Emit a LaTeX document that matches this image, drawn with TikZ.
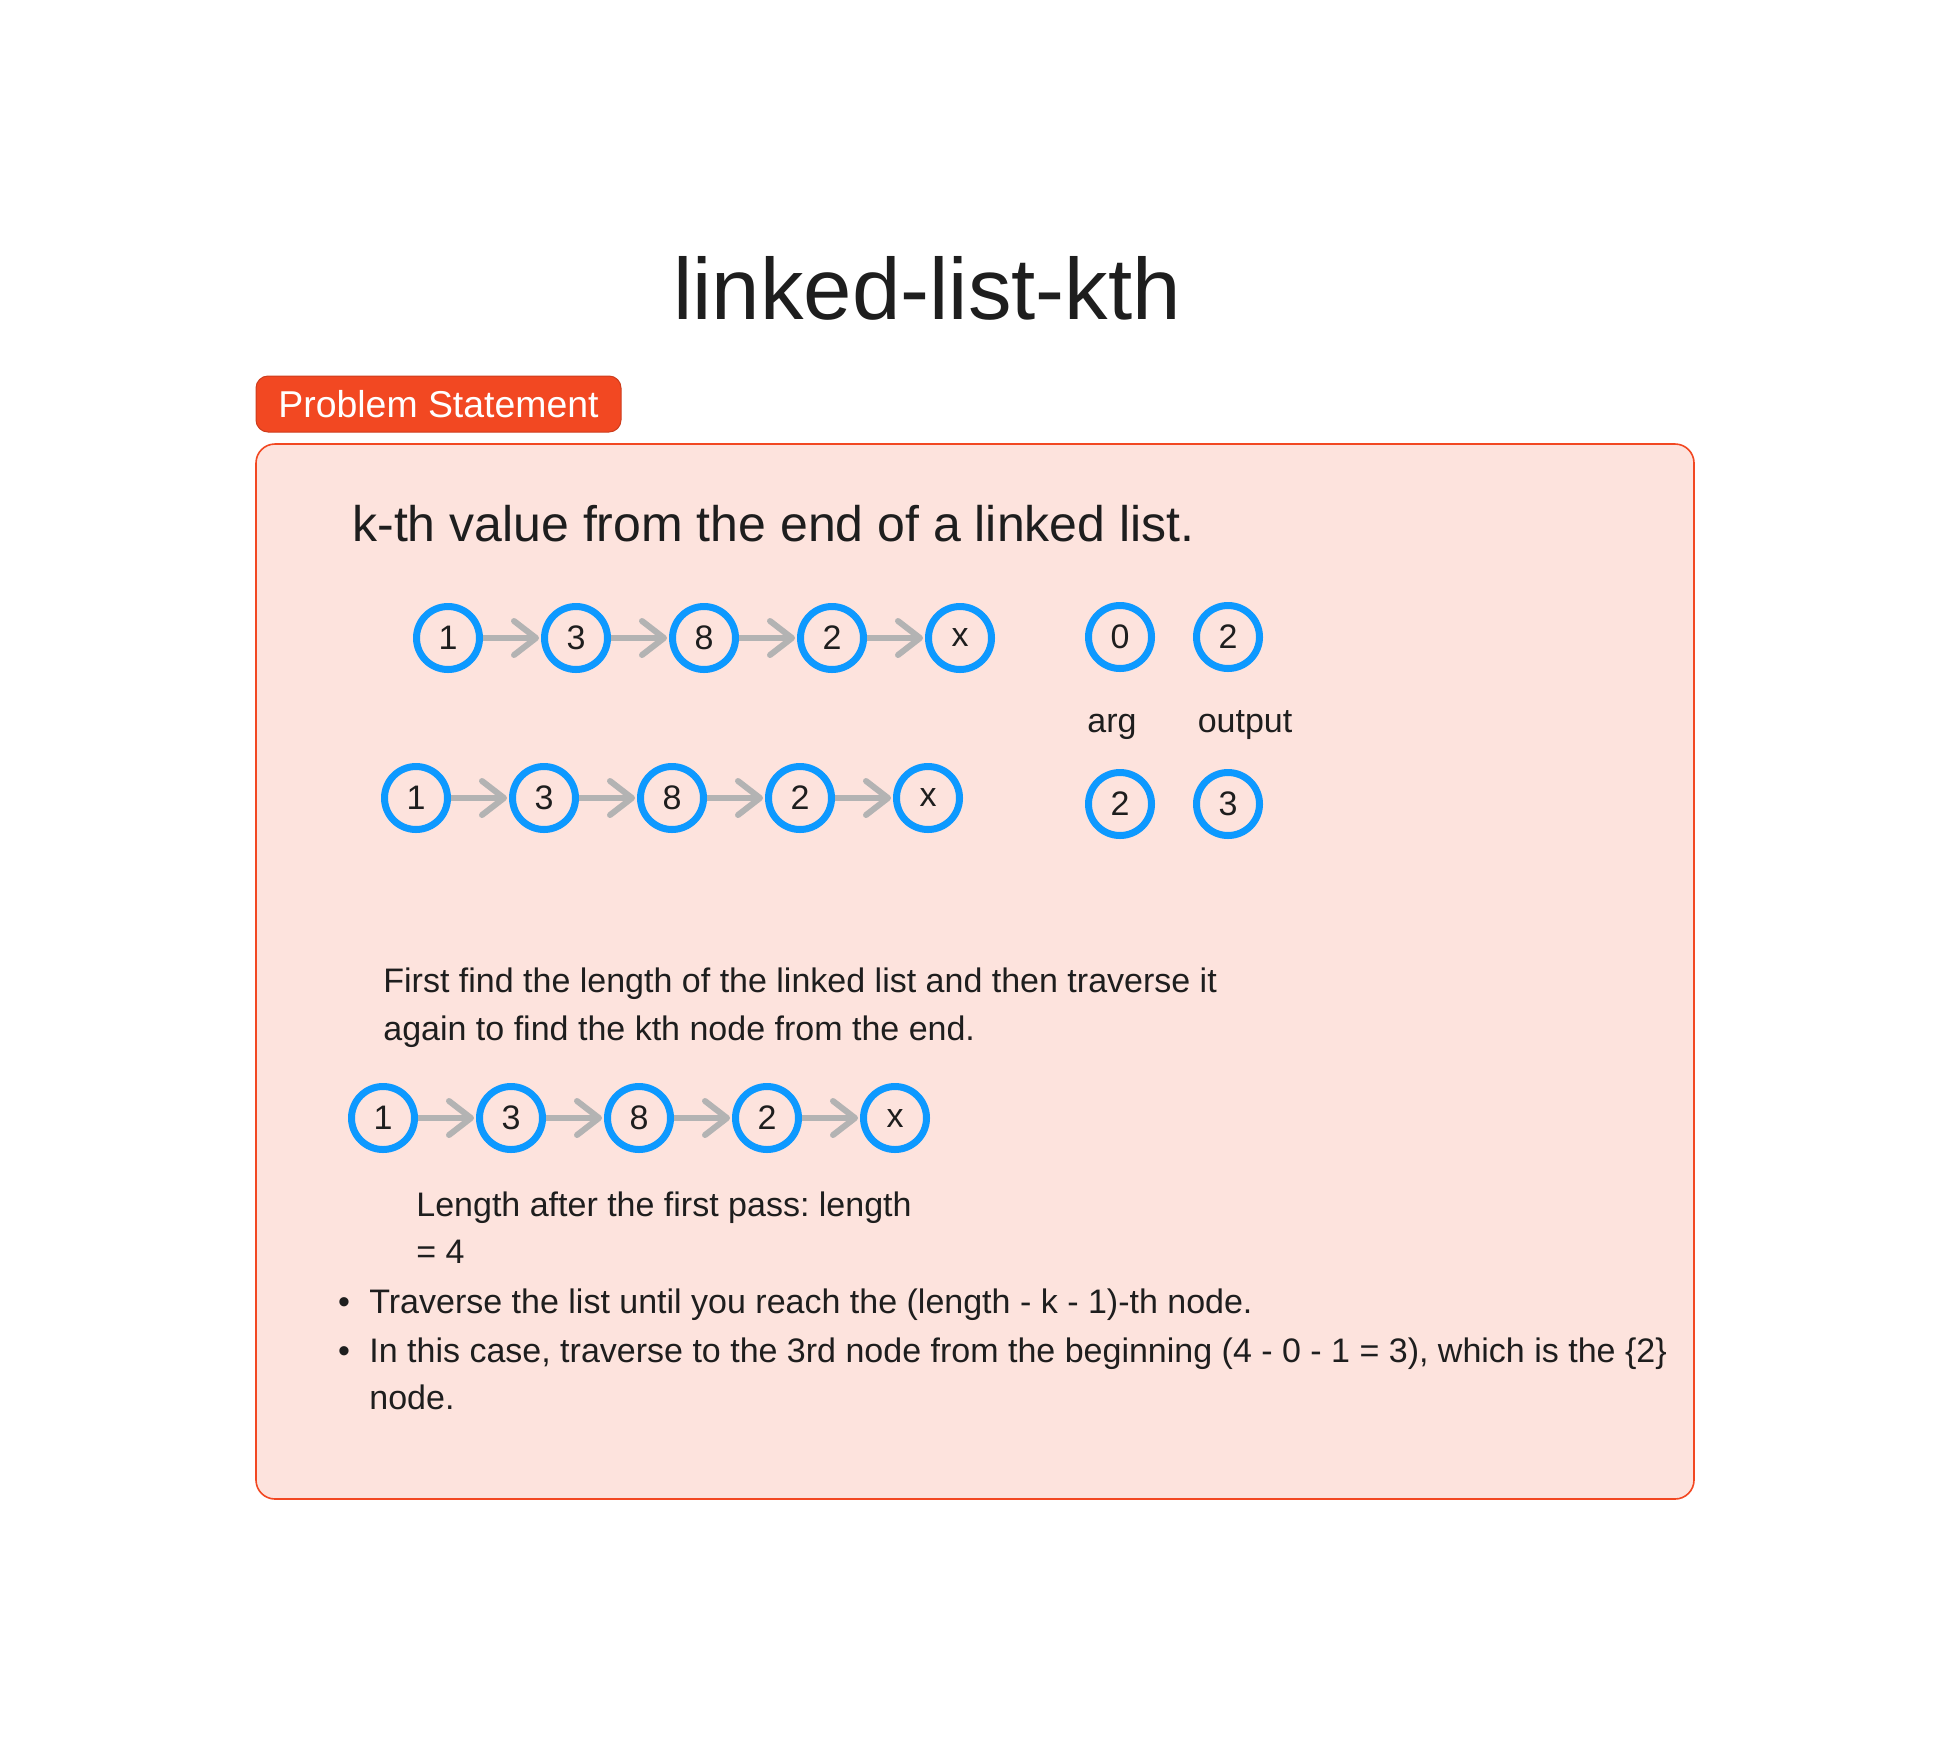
\documentclass[tikz,border=0pt]{standalone}
\usepackage{fontspec}
\setmainfont{Liberation Sans}
\usetikzlibrary{arrows.meta}
\definecolor{ink}{HTML}{1E1E1E}
\definecolor{accent}{HTML}{F24822}
\definecolor{boxfill}{HTML}{FDE3DD}
\definecolor{nodeblue}{HTML}{0D99FF}
\definecolor{arrowgray}{HTML}{B3B3B3}
\frenchspacing
\begin{document}
\begin{tikzpicture}[x=0.5pt,y=-0.5pt,
  lnode/.style={circle,draw=nodeblue,line width=3.5pt,minimum size=31.5pt,inner sep=0pt,font=\fontsize{17}{20}\selectfont,text=ink},
  link/.style={draw=arrowgray,line width=3pt,-{Straight Barb[length=11pt,width=17pt,round]},shorten >=1pt},
  txt/.style={anchor=base west,inner sep=0pt,font=\fontsize{17}{20}\selectfont,text=ink},
  lbl/.style={anchor=base,inner sep=0pt,font=\fontsize{17}{20}\selectfont,text=ink},
]
\useasboundingbox (0,0) rectangle (1952,1756);
% title
\node[anchor=base,inner sep=0pt,font=\fontsize{43.5}{50}\selectfont,text=ink] (title) at (927,319) {linked-list-kth};
% panel
\node[draw=accent,fill=boxfill,line width=0.8pt,rounded corners=9.5pt,minimum width=719pt,minimum height=527.5pt,inner sep=0pt] (panel) at (975,971.5) {};
% badge
\node[draw=accent!85!black,line width=0.5pt,fill=accent,rounded corners=6pt,minimum width=182.5pt,minimum height=28pt,inner sep=0pt,text=white,font=\fontsize{18.7}{22}\selectfont] (badge) at (438.5,404) {Problem Statement};
% heading
\node[txt,font=\fontsize{25}{30}\selectfont] (heading) at (352,541) {k-th value from the end of a linked list.};
% linked lists
\foreach \row/\x/\y in {a/448/638, b/416/798, c/383/1118} {
  \foreach \v [count=\i] in {1,3,8,2,x} {
    \node[lnode] (\row\i) at ({\x+128*(\i-1)},\y) {\v};
  }
  \foreach \i [evaluate=\i as \j using int(\i+1)] in {1,...,4} {
    \draw[link] (\row\i) -- (\row\j);
  }
}
% arg / output
\node[lnode] (argA) at (1120,637) {0};
\node[lnode] (outA) at (1228,637) {2};
\node[lnode] (argB) at (1120,804) {2};
\node[lnode] (outB) at (1228,804) {3};
\node[lbl] (arglbl) at (1112,732) {arg};
\node[lbl] (outlbl) at (1245,732) {output};
% explanation
\node[txt] (p1) at (383,992) {First find the length of the linked list and then traverse it};
\node[txt] (p2) at (383,1040) {again to find the kth node from the end.};
\node[txt] (len1) at (416,1216) {Length after the first pass: length};
\node[txt] (len2) at (416,1263) {= 4};
\node[lbl] (bul1) at (344,1313) {•};
\node[txt] (b1) at (369,1313) {Traverse the list until you reach the (length - k - 1)-th node.};
\node[lbl] (bul2) at (344,1362) {•};
\node[txt] (b2) at (369,1362) {In this case, traverse to the 3rd node from the beginning (4 - 0 - 1 = 3), which is the \{2\}};
\node[txt] (b3) at (369,1409) {node.};
\end{tikzpicture}
\end{document}
